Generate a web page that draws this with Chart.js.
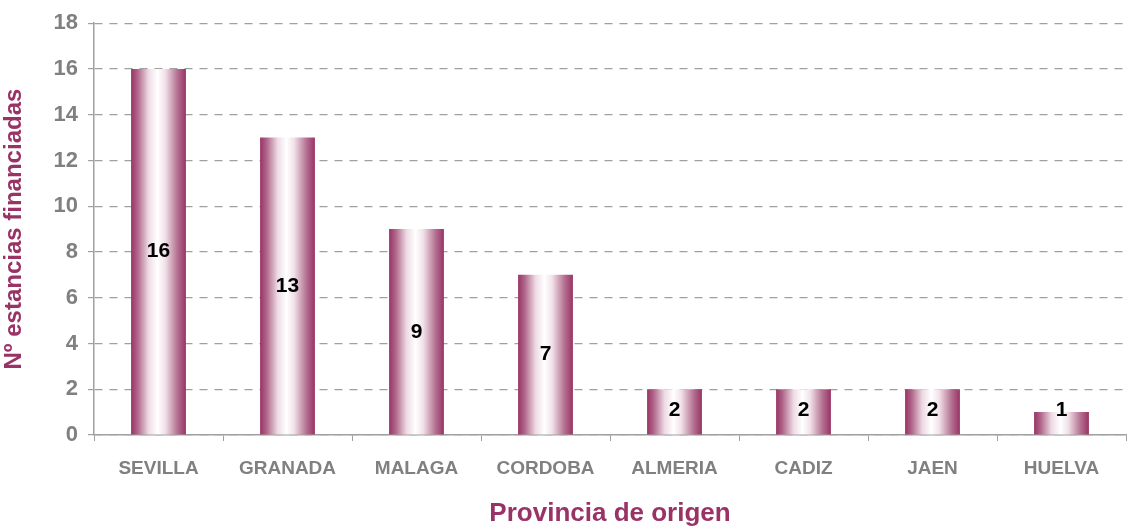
<!DOCTYPE html>
<html lang="es">
<head>
<meta charset="UTF-8">
<title>Estancias financiadas por provincia</title>
<script src="https://cdn.jsdelivr.net/npm/chart.js"></script>
<style>
    body { margin: 0; padding: 0; background: #fff; }
    .wrap { width: 1130px; height: 529px; position: relative; }
</style>
</head>
<body>
<div class="wrap"><canvas id="chart"></canvas></div>
<script>
    const provincias = ['SEVILLA', 'GRANADA', 'MALAGA', 'CORDOBA', 'ALMERIA', 'CADIZ', 'JAEN', 'HUELVA'];
    const estancias = [16, 13, 9, 7, 2, 2, 2, 1];
    const yMin = 0, yMax = 18, yStep = 2;

    const magenta = '#993366';
    const grey = '#808080';
    const font = '"Liberation Sans", Arial, sans-serif';

    // degradado horizontal en cada barra (oscuro - blanco - oscuro)
    const barGradient = {
        id: 'barGradient',
        beforeDatasetsDraw(chart) {
            const ctx = chart.ctx;
            chart.getDatasetMeta(0).data.forEach(bar => {
                const half = bar.width / 2;
                const g = ctx.createLinearGradient(bar.x - half, 0, bar.x + half, 0);
                g.addColorStop(0, '#993366');
                g.addColorStop(0.12, '#b0668a');
                g.addColorStop(0.32, '#eedbe4');
                g.addColorStop(0.48, '#ffffff');
                g.addColorStop(0.62, '#f1e2e9');
                g.addColorStop(0.85, '#b36f90');
                g.addColorStop(1, '#993366');
                // las opciones pueden ser compartidas, se copia para cada barra
                bar.options = Object.assign({}, bar.options, { backgroundColor: g });
            });
        }
    };

    // etiquetas de valor en el centro de la barra
    const valueLabels = {
        id: 'valueLabels',
        afterDatasetsDraw(chart) {
            const ctx = chart.ctx;
            ctx.save();
            ctx.font = 'bold 21px ' + font;
            ctx.fillStyle = '#000';
            ctx.textAlign = 'center';
            ctx.textBaseline = 'middle';
            chart.getDatasetMeta(0).data.forEach((bar, i) => {
                const y = Math.min((bar.y + bar.base) / 2, bar.base - 24);
                ctx.fillText(estancias[i], bar.x, y);
            });
            ctx.restore();
        }
    };

    new Chart(document.getElementById('chart'), {
        type: 'bar',
        data: {
            labels: provincias,
            datasets: [{
                data: estancias,
                backgroundColor: magenta,
                barPercentage: 0.85,
                categoryPercentage: 0.5
            }]
        },
        options: {
            responsive: true,
            maintainAspectRatio: false,
            animation: false,
            layout: { padding: { top: 18, right: 4, left: 0, bottom: 0 } },
            plugins: {
                legend: { display: false },
                tooltip: { enabled: false }
            },
            scales: {
                x: {
                    grid: { drawOnChartArea: false, drawTicks: true, tickLength: 6, color: '#a0a0a0' },
                    border: { color: '#a0a0a0', width: 1.5 },
                    ticks: {
                        color: grey,
                        padding: 16,
                        font: { family: font, size: 19, weight: 'bold' }
                    },
                    title: {
                        display: true,
                        text: 'Provincia de origen',
                        color: magenta,
                        padding: { top: 15, bottom: 0 },
                        font: { family: font, size: 26, weight: 'bold' }
                    },
                    afterFit(scale) { scale.height = 94; }
                },
                y: {
                    min: yMin,
                    max: yMax,
                    grid: { color: '#a0a0a0', lineWidth: 1.2, tickLength: 6 },
                    border: { color: '#a0a0a0', width: 1.5, dash: [8, 7] },
                    ticks: {
                        stepSize: yStep,
                        color: grey,
                        padding: 10,
                        font: { family: font, size: 22, weight: 'bold' }
                    },
                    title: {
                        display: true,
                        text: 'Nº estancias financiadas',
                        color: magenta,
                        padding: { top: 0, bottom: 2 },
                        font: { family: font, size: 24, weight: 'bold' }
                    },
                    afterFit(scale) { scale.width = 94; }
                }
            }
        },
        plugins: [barGradient, valueLabels]
    });
</script>
</body>
</html>
